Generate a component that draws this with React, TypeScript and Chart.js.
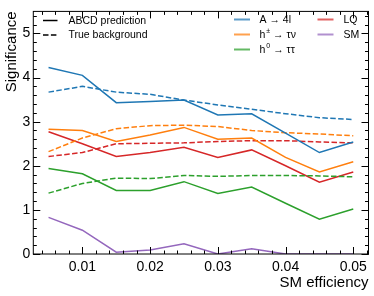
import React, { useEffect, useRef } from "react";
import { Chart, registerables } from "chart.js";

Chart.register(...registerables);

const efficiency = [0.005, 0.01, 0.015, 0.02, 0.025, 0.03, 0.035, 0.04, 0.045, 0.05];

const a4lPred = [4.23, 4.05, 3.43, 3.46, 3.49, 3.15, 3.18, 2.74, 2.30, 2.54];
const a4lTrue = [3.67, 3.80, 3.67, 3.62, 3.49, 3.38, 3.28, 3.18, 3.09, 3.05];
const hchPred = [2.83, 2.80, 2.55, 2.70, 2.87, 2.60, 2.63, 2.19, 1.86, 2.09];
const hchTrue = [2.32, 2.63, 2.84, 2.91, 2.92, 2.89, 2.80, 2.75, 2.72, 2.68];
const h0Pred = [1.94, 1.82, 1.44, 1.44, 1.64, 1.37, 1.52, 1.15, 0.79, 1.02];
const h0True = [1.38, 1.60, 1.72, 1.71, 1.78, 1.76, 1.78, 1.78, 1.77, 1.75];
const lqPred = [2.77, 2.50, 2.21, 2.30, 2.42, 2.19, 2.36, 2.00, 1.63, 1.86];
const lqTrue = [2.21, 2.30, 2.50, 2.51, 2.52, 2.55, 2.57, 2.57, 2.54, 2.52];
const smPred = [0.83, 0.54, 0.04, 0.09, 0.23, 0.0, 0.12, 0.0, 0.0, 0.0];

const xTickStep = 0.01;
const yTickStep = 1;

const BLUE = "#1f77b4";
const ORANGE = "#ff7f0e";
const GREEN = "#2ca02c";
const RED = "#d62728";
const PURPLE = "#9467bd";
const FONT = "'Liberation Sans', Arial, Helvetica, sans-serif";
const DASH = [5.5, 2.4];

const pts = (ys: number[]) => efficiency.map((x, i) => ({ x, y: ys[i] }));

const mk = (data: number[], color: string, dashed: boolean) => ({
  data: pts(data),
  borderColor: color,
  backgroundColor: color,
  borderWidth: 1.5,
  borderDash: dashed ? DASH : [],
  pointRadius: 0,
  tension: 0,
  fill: false,
});

const framePlugin = {
  id: "frameAndLegend",
  afterDraw(chart: any) {
    const ctx = chart.ctx;
    const { left, right, top, bottom } = chart.chartArea;
    const xs = chart.scales.x;
    const ys = chart.scales.y;
    ctx.save();
    ctx.strokeStyle = "#000";
    ctx.lineWidth = 1;
    ctx.strokeRect(left, top, right - left, bottom - top);

    const majorLen = 7;
    const minorLen = 3.5;
    ctx.beginPath();
    // x minor ticks
    const xMinorStep = 0.002;
    for (let v = Math.ceil(xs.min / xMinorStep) * xMinorStep; v <= xs.max + 1e-9; v += xMinorStep) {
      const px = Math.round(xs.getPixelForValue(v)) + 0.5;
      ctx.moveTo(px, bottom);
      ctx.lineTo(px, bottom - minorLen);
      ctx.moveTo(px, top);
      ctx.lineTo(px, top + minorLen);
    }
    for (const t of xs.ticks) {
      const px = Math.round(xs.getPixelForValue(t.value)) + 0.5;
      ctx.moveTo(px, bottom);
      ctx.lineTo(px, bottom - majorLen);
      ctx.moveTo(px, top);
      ctx.lineTo(px, top + majorLen);
    }
    const yMinorStep = 0.2;
    for (let v = 0; v <= ys.max + 1e-9; v += yMinorStep) {
      const py = Math.round(ys.getPixelForValue(v)) + 0.5;
      ctx.moveTo(left, py);
      ctx.lineTo(left + minorLen, py);
      ctx.moveTo(right, py);
      ctx.lineTo(right - minorLen, py);
    }
    for (const t of ys.ticks) {
      const py = Math.round(ys.getPixelForValue(t.value)) + 0.5;
      ctx.moveTo(left, py);
      ctx.lineTo(left + majorLen, py);
      ctx.moveTo(right, py);
      ctx.lineTo(right - majorLen, py);
    }
    ctx.stroke();

    // axis titles
    ctx.fillStyle = "#000";
    ctx.font = `15px ${FONT}`;
    ctx.textAlign = "right";
    ctx.textBaseline = "middle";
    ctx.fillText("SM efficiency", right, 283);
    ctx.save();
    ctx.translate(12, top);
    ctx.rotate(-Math.PI / 2);
    ctx.textAlign = "right";
    ctx.textBaseline = "middle";
    ctx.fillText("Significance", 0, 0);
    ctx.restore();

    // legends
    const lf = `10.5px ${FONT}`;
    const sf = `7px ${FONT}`;
    ctx.font = lf;
    ctx.textAlign = "left";
    ctx.textBaseline = "middle";

    const sample = (x0: number, x1: number, y: number, color: string, dashed: boolean, w: number) => {
      ctx.save();
      ctx.strokeStyle = color;
      ctx.lineWidth = w;
      ctx.setLineDash(dashed ? DASH : []);
      ctx.beginPath();
      ctx.moveTo(x0, y);
      ctx.lineTo(x1, y);
      ctx.stroke();
      ctx.restore();
    };

    sample(43, 57.5, 20.5, "#000", false, 1.5);
    sample(43, 57.5, 35, "#000", true, 1.5);
    ctx.fillText("ABCD prediction", 68.5, 21);
    ctx.fillText("True background", 68.5, 35.5);

    const withSup = (base: string, sup: string, rest: string, x: number, y: number) => {
      ctx.font = lf;
      ctx.fillText(base, x, y);
      let cx = x + ctx.measureText(base).width + 1;
      ctx.font = sf;
      ctx.fillText(sup, cx, y - 4);
      cx += ctx.measureText(sup).width;
      ctx.font = lf;
      ctx.fillText(rest, cx, y);
    };

    const alphaCol = (c: string) => c + "bb";
    sample(234, 250, 19.5, alphaCol(BLUE), false, 2);
    sample(234, 250, 34.5, alphaCol(ORANGE), false, 2);
    sample(234, 250, 49.5, alphaCol(GREEN), false, 2);
    sample(317.5, 333.5, 19.5, alphaCol(RED), false, 2);
    sample(317.5, 333.5, 34.5, alphaCol(PURPLE), false, 2);
    ctx.font = lf;
    ctx.fillText("A \u2192 4l", 259.5, 20);
    withSup("h", "\u00b1", " \u2192 \u03c4\u03bd", 259.5, 35);
    withSup("h", "0", " \u2192 \u03c4\u03c4", 259.5, 50);
    ctx.font = lf;
    ctx.fillText("LQ", 343.5, 20);
    ctx.fillText("SM", 343.5, 35);
    ctx.restore();
  },
};

export default function App() {
  const ref = useRef<HTMLCanvasElement | null>(null);
  useEffect(() => {
    document.body.style.margin = "0";
    if (!ref.current) return;
    const chart = new Chart(ref.current, {
      type: "line",
      data: {
        datasets: [
          mk(a4lPred, BLUE, false),
          mk(a4lTrue, BLUE, true),
          mk(hchPred, ORANGE, false),
          mk(hchTrue, ORANGE, true),
          mk(h0Pred, GREEN, false),
          mk(h0True, GREEN, true),
          mk(lqPred, RED, false),
          mk(lqTrue, RED, true),
          mk(smPred, PURPLE, false),
        ] as any,
      },
      options: {
        responsive: false,
        animation: false,
        devicePixelRatio: 1,
        layout: { padding: { top: 5, right: 5.5, left: 0, bottom: 0 } },
        plugins: { legend: { display: false }, tooltip: { enabled: false } },
        scales: {
          x: {
            type: "linear",
            min: 0.00275,
            max: 0.05225,
            grid: { display: false, drawTicks: false },
            border: { display: false },
            ticks: {
              stepSize: xTickStep,
              includeBounds: false,
              color: "#000",
              padding: 5,
              maxRotation: 0,
              font: { family: FONT, size: 14 },
              callback: (v: any) => Number(v).toFixed(2),
            },
            afterFit: (s: any) => {
              s.height = 42;
            },
          },
          y: {
            type: "linear",
            min: 0,
            max: 5.5,
            grid: { display: false, drawTicks: false },
            border: { display: false },
            ticks: {
              stepSize: yTickStep,
              includeBounds: false,
              color: "#000",
              padding: 3,
              font: { family: FONT, size: 14 },
              callback: (v: any) => String(v),
            },
            afterFit: (s: any) => {
              s.width = 33.3;
            },
          },
        },
      },
      plugins: [framePlugin],
    });
    return () => chart.destroy();
  }, []);
  return (
    <div style={{ width: 374, height: 296 }}>
      <canvas ref={ref} width={374} height={296} style={{ display: "block" }} />
    </div>
  );
}
